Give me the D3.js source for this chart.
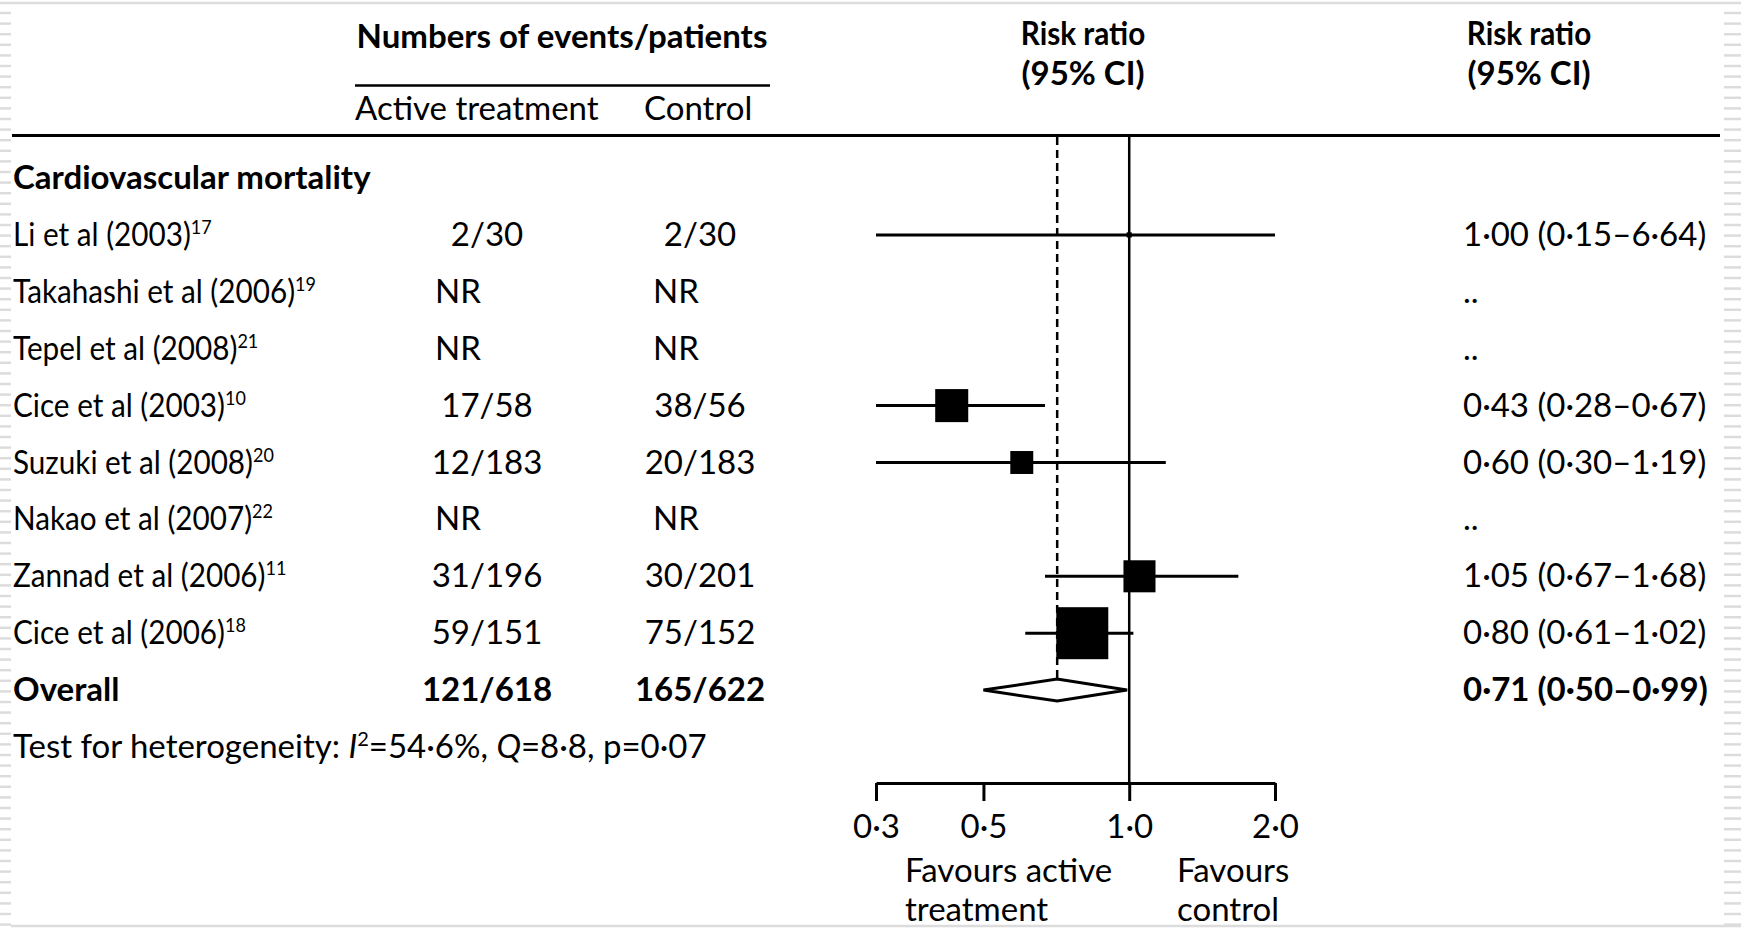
<!DOCTYPE html>
<html>
<head>
<meta charset="utf-8">
<script src="https://cdn.jsdelivr.net/npm/d3@7"></script>
<style>
  body { margin: 0; background: #fff; }
  svg text { font-family: Lato, "DejaVu Sans Condensed", sans-serif; fill: #000; }
</style>
</head>
<body>
<svg id="chart" width="1741" height="929"></svg>
<script>
// study rows
const studies = ['Li et al (2003)', 'Takahashi et al (2006)', 'Tepel et al (2008)', 'Cice et al (2003)',
  'Suzuki et al (2008)', 'Nakao et al (2007)', 'Zannad et al (2006)', 'Cice et al (2006)']
const refs = ['17', '19', '21', '10', '20', '22', '11', '18']
const activeCounts = ['2/30', 'NR', 'NR', '17/58', '12/183', 'NR', '31/196', '59/151']
const controlCounts = ['2/30', 'NR', 'NR', '38/56', '20/183', 'NR', '30/201', '75/152']
const rr = [1.00, null, null, 0.43, 0.60, null, 1.05, 0.80]
const rrLow = [0.15, null, null, 0.28, 0.30, null, 0.67, 0.61]
const rrHigh = [6.64, null, null, 0.67, 1.19, null, 1.68, 1.02]
// estimated weights (%)
const weights = [0.5, 0, 0, 20.3, 9.8, 0, 19.1, 50.3]

// pooled
const overallCounts = ['121/618', '165/622']
const overall = [0.71, 0.50, 0.99]

const tickValues = [0.3, 0.5, 1.0, 2.0]

const W = 1741, H = 929
const fs = 33
const squeeze = 0.9   // the original face is narrower than Lato
const svg = d3.select('#chart')

const dot = (v, n) => v.toFixed(n).replace('.', '\u00b7')

// x scale for risk ratio (log)
const x = d3.scaleLog().domain([0.3, 2]).range([876, 1275]).clamp(true)
// rows: 0 = section title, 1..8 studies, 9 overall, 10 heterogeneity
const rowY = d3.scaleLinear().domain([0, 10]).range([178, 747])
const boxSize = d3.scaleSqrt().domain([0, 50.3]).range([0, 52])

// ---- scan border decoration
const deco = svg.append('g').attr('stroke', '#dcdcdc').attr('stroke-width', 2.5)
deco.append('line').attr('x1', 0).attr('x2', W).attr('y1', 3).attr('y2', 3)
deco.append('line').attr('x1', 11).attr('x2', W).attr('y1', 926).attr('y2', 926)
deco.selectAll('.ls').data(d3.range(13, 925, 10.6)).enter().append('line')
  .attr('x1', 0).attr('x2', 11).attr('y1', d => d).attr('y2', d => d)
deco.selectAll('.rs').data(d3.range(13, 925, 10.6)).enter().append('line')
  .attr('x1', 1724).attr('x2', W).attr('y1', d => d).attr('y2', d => d)

// ---- headers
const head = svg.append('g').attr('font-size', fs)
head.append('text').attr('x', 562).attr('y', 48).attr('text-anchor', 'middle')
  .attr('font-weight', 'bold').text('Numbers of events/patients')
head.append('line').attr('x1', 355).attr('x2', 770).attr('y1', 85.5).attr('y2', 85.5)
  .attr('stroke', '#000').attr('stroke-width', 2.5)
head.append('text').attr('x', 355).attr('y', 120).text('Active treatment')
head.append('text').attr('x', 644).attr('y', 120).text('Control')
;[1083, 1529].forEach(cx => {
  head.append('text').attr('transform', `translate(${cx},45) scale(${squeeze},1)`)
    .attr('text-anchor', 'middle').attr('font-weight', 'bold').text('Risk ratio')
  head.append('text').attr('x', cx).attr('y', 85).attr('text-anchor', 'middle')
    .attr('font-weight', 'bold').text('(95% CI)')
})
svg.append('line').attr('x1', 12).attr('x2', 1720).attr('y1', 135.5).attr('y2', 135.5)
  .attr('stroke', '#000').attr('stroke-width', 3)

// ---- reference lines
svg.append('line').attr('x1', x(1)).attr('x2', x(1)).attr('y1', 135).attr('y2', 783)
  .attr('stroke', '#000').attr('stroke-width', 2.5)
svg.append('line').attr('x1', x(overall[0])).attr('x2', x(overall[0]))
  .attr('y1', 137).attr('y2', rowY(9) - 11)
  .attr('stroke', '#000').attr('stroke-width', 2.5).attr('stroke-dasharray', '8,5')

// ---- table text
const tbl = svg.append('g').attr('font-size', fs)
const base = 11
tbl.append('text').attr('x', 13).attr('y', rowY(0) + base).attr('font-weight', 'bold')
  .text('Cardiovascular mortality')

const rows = tbl.selectAll('.row').data(studies).enter().append('g')
  .attr('transform', (d, i) => `translate(0,${rowY(i + 1) + base})`)
const lbl = rows.append('text').attr('transform', `translate(13,0) scale(${squeeze},1)`)
lbl.append('tspan').text(d => d)
lbl.append('tspan').attr('font-size', 20).attr('dy', -12).text((d, i) => refs[i])

function countText(sel, arr, cx, nrx) {
  sel.append('text')
    .attr('x', (d, i) => arr[i] === 'NR' ? nrx : cx)
    .attr('text-anchor', (d, i) => arr[i] === 'NR' ? 'start' : 'middle')
    .text((d, i) => arr[i])
}
countText(rows, activeCounts, 487, 435)
countText(rows, controlCounts, 700, 653)

rows.append('text').attr('x', 1463)
  .text((d, i) => rr[i] == null ? '..' : `${dot(rr[i], 2)} (${dot(rrLow[i], 2)}\u2013${dot(rrHigh[i], 2)})`)

// overall row
const ov = tbl.append('g').attr('font-weight', 'bold')
  .attr('transform', `translate(0,${rowY(9) + base})`)
ov.append('text').attr('x', 13).text('Overall')
ov.append('text').attr('x', 487).attr('text-anchor', 'middle').text(overallCounts[0])
ov.append('text').attr('x', 700).attr('text-anchor', 'middle').text(overallCounts[1])
ov.append('text').attr('x', 1463)
  .text(`${dot(overall[0], 2)} (${dot(overall[1], 2)}\u2013${dot(overall[2], 2)})`)

// heterogeneity
const het = tbl.append('text').attr('x', 13).attr('y', rowY(10) + base)
het.append('tspan').text('Test for heterogeneity: ')
het.append('tspan').attr('font-style', 'italic').text('I')
het.append('tspan').attr('font-size', 20).attr('dy', -12).text('2')
het.append('tspan').attr('dy', 12).text('=54\u00b76%, ')
het.append('tspan').attr('font-style', 'italic').text('Q')
het.append('tspan').text('=8\u00b78, p=0\u00b707')

// ---- forest marks
const marks = svg.append('g')
const idx = d3.range(studies.length).filter(i => rr[i] != null)
marks.selectAll('.ci').data(idx).enter().append('line')
  .attr('x1', i => x(rrLow[i])).attr('x2', i => x(rrHigh[i]))
  .attr('y1', i => rowY(i + 1)).attr('y2', i => rowY(i + 1))
  .attr('stroke', '#000').attr('stroke-width', 3)
marks.selectAll('.box').data(idx).enter().append('rect')
  .attr('x', i => x(rr[i]) - boxSize(weights[i]) / 2)
  .attr('y', i => rowY(i + 1) - boxSize(weights[i]) / 2)
  .attr('width', i => boxSize(weights[i]))
  .attr('height', i => boxSize(weights[i]))
  .attr('fill', '#000')

const oy = rowY(9)
marks.append('path')
  .attr('d', `M${x(overall[1])},${oy} L${x(overall[0])},${oy - 11} L${x(overall[2])},${oy} L${x(overall[0])},${oy + 11} Z`)
  .attr('fill', '#fff').attr('stroke', '#000').attr('stroke-width', 3)

// ---- axis
const axisG = svg.append('g').attr('transform', 'translate(0,783)')
  .call(d3.axisBottom(x).tickValues(tickValues).tickSize(18).tickPadding(14)
    .tickSizeOuter(0).tickFormat(d => dot(d, 1)))
axisG.attr('font-family', null)
axisG.select('.domain').attr('stroke', '#000').attr('stroke-width', 3)
axisG.selectAll('.tick line').attr('stroke', '#000').attr('stroke-width', 3)
axisG.selectAll('.tick text').attr('font-size', fs).attr('fill', '#000')

const fav = svg.append('g').attr('font-size', fs)
fav.append('text').attr('x', 905).attr('y', 882).text('Favours active')
fav.append('text').attr('x', 905).attr('y', 921).text('treatment')
fav.append('text').attr('x', 1177).attr('y', 882).text('Favours')
fav.append('text').attr('x', 1177).attr('y', 921).text('control')
</script>
</body>
</html>
